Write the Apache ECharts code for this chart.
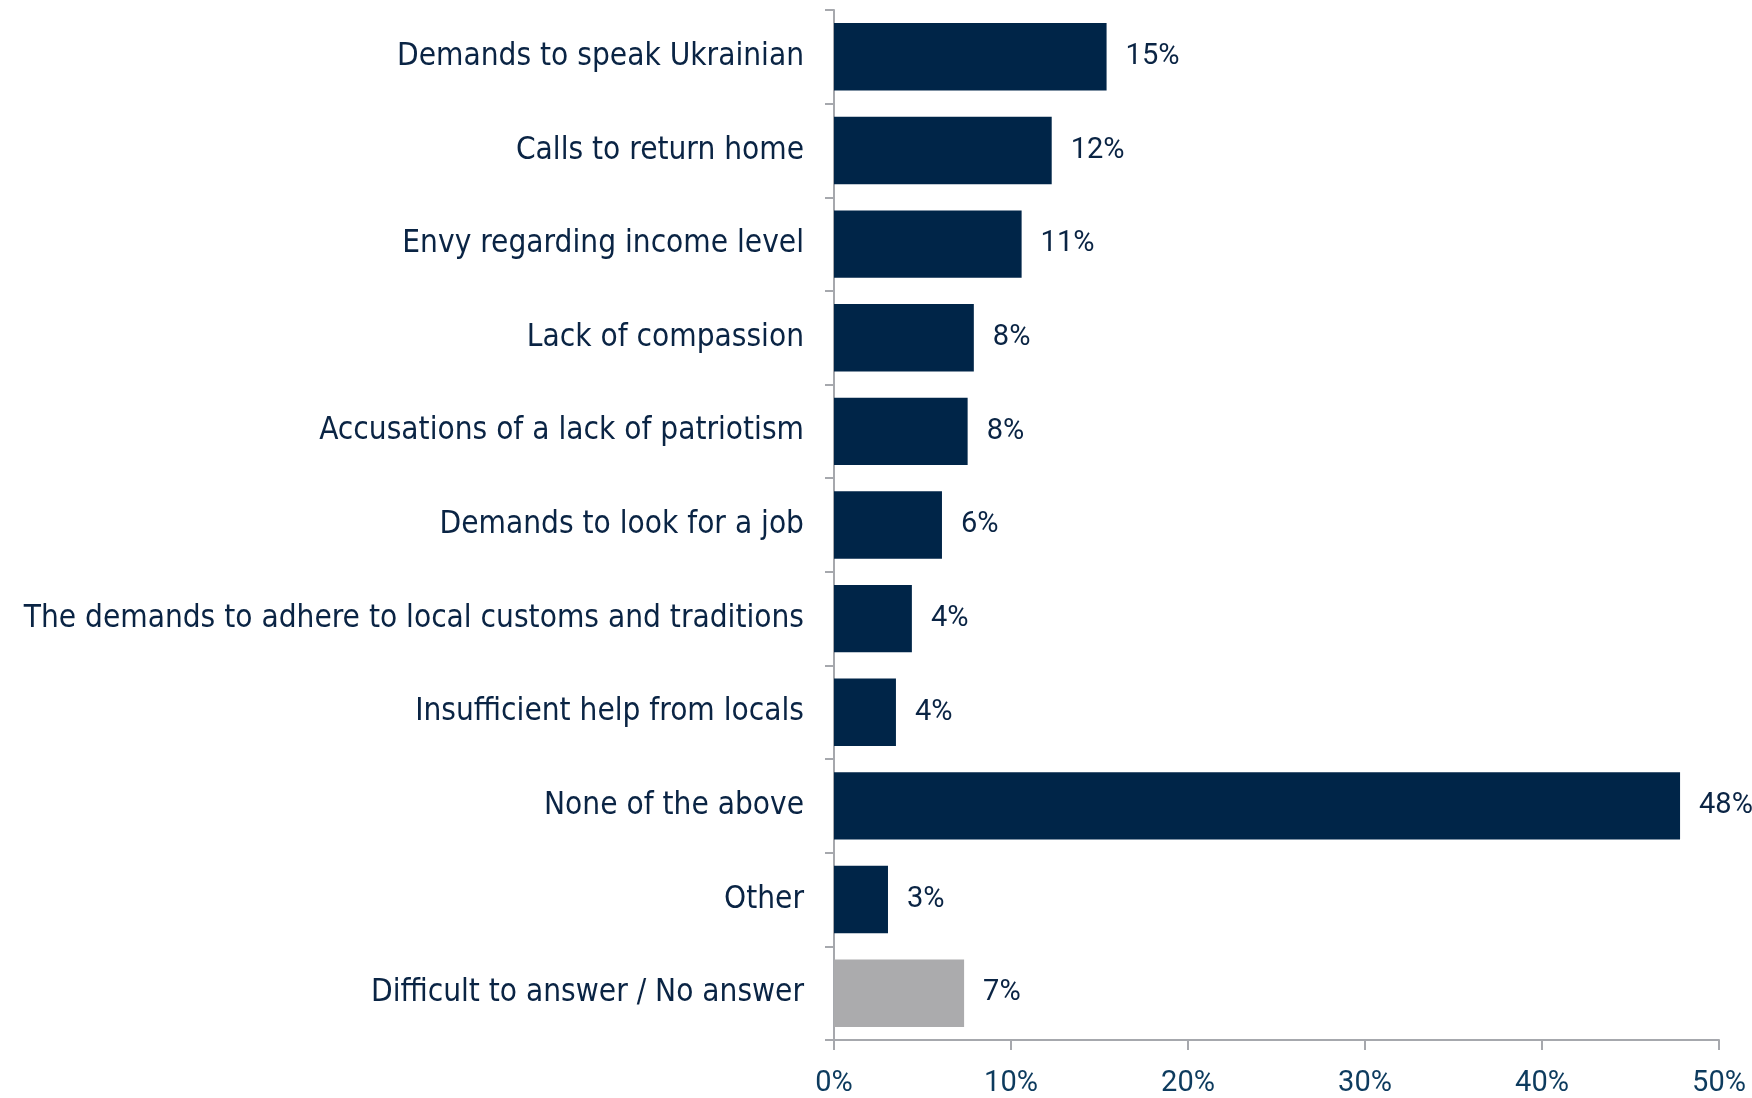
<!DOCTYPE html>
<html><head><meta charset="utf-8">
<script src="https://cdn.jsdelivr.net/npm/echarts@6/dist/echarts.min.js"></script>
<style>html,body{margin:0;padding:0;background:#fff}#c{width:1752px;height:1098px}</style>
</head><body><div id="c"></div>
<script>
const categories = [
  "Demands to speak Ukrainian",
  "Calls to return home",
  "Envy regarding income level",
  "Lack of compassion",
  "Accusations of a lack of patriotism",
  "Demands to look for a job",
  "The demands to adhere to local customs and traditions",
  "Insufficient help from locals",
  "None of the above",
  "Other",
  "Difficult to answer / No answer"
];
const values = [15.4, 12.3, 10.6, 7.9, 7.55, 6.1, 4.4, 3.5, 47.8, 3.05, 7.35];
const valueLabels = ["15%", "12%", "11%", "8%", "8%", "6%", "4%", "4%", "48%", "3%", "7%"];
const highlightGray = ["Difficult to answer / No answer"];
const xTicks = [0, 10, 20, 30, 40, 50];

const CAT_FONT = "DejaVu Sans Condensed";
const NUM_FONT = "Roboto";
const NAVY = "#002548";
const GRAY = "#ababad";

const chart = echarts.init(document.getElementById('c'));
chart.setOption({
  animation: false,
  grid: { left: 834, right: 33, top: 10, bottom: 56, containLabel: false },
  xAxis: {
    type: 'value', min: xTicks[0], max: xTicks[xTicks.length - 1], interval: 10,
    axisLine: { show: true, lineStyle: { color: '#a6a8ad', width: 2 } },
    axisTick: { show: true, length: 10, lineStyle: { color: '#a6a8ad', width: 2 } },
    splitLine: { show: false },
    axisLabel: { formatter: v => v + '%', color: '#0d3b5e', fontFamily: NUM_FONT, fontSize: 29, margin: 29 }
  },
  yAxis: {
    type: 'category', inverse: true, data: categories,
    axisLine: { show: true, lineStyle: { color: '#a6a8ad', width: 2 } },
    axisTick: { show: true, length: 9, lineStyle: { color: '#a6a8ad', width: 2 } },
    axisLabel: { color: '#0a2444', fontFamily: CAT_FONT, fontSize: 31.3, margin: 30 }
  },
  series: [{
    type: 'bar',
    barCategoryGap: '28%',
    data: values.map((v, i) => ({
      value: v,
      itemStyle: { color: highlightGray.includes(categories[i]) ? GRAY : NAVY },
      label: { formatter: valueLabels[i] }
    })),
    label: { show: true, position: 'right', distance: 19, color: '#0a2444', fontFamily: NUM_FONT, fontSize: 29 }
  }]
});
</script></body></html>
